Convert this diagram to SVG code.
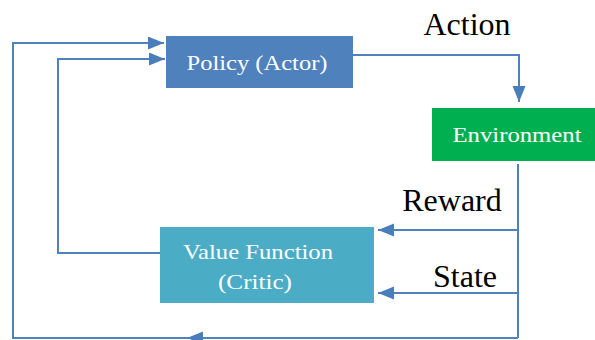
<svg xmlns="http://www.w3.org/2000/svg" width="595" height="340" viewBox="0 0 595 340">
<style>
.ln{fill:none;stroke:#4F81BD;stroke-width:2}
.box{font-family:"Liberation Serif","Times New Roman",serif;fill:#ffffff;font-size:22px}
.lbl{font-family:"Liberation Serif","Times New Roman",serif;fill:#000000;font-size:32px}
</style>
<defs>
<marker id="ah" markerUnits="userSpaceOnUse" markerWidth="17" markerHeight="14" refX="16" refY="6.5" orient="auto">
<path d="M0,0 L16,6.5 L0,13 z" fill="#4A7EBB"/>
</marker>
</defs>
<rect width="595" height="340" fill="#ffffff"/>
<g id="connectors">
<polyline class="ln" points="353,55 519,55 519,102" marker-end="url(#ah)"/>
<line class="ln" x1="518" y1="164" x2="518" y2="338"/>
<line class="ln" x1="518" y1="230" x2="378" y2="230" marker-end="url(#ah)"/>
<line class="ln" x1="518" y1="293" x2="378" y2="293" marker-end="url(#ah)"/>
<line class="ln" x1="518" y1="338" x2="187" y2="338" marker-end="url(#ah)"/>
<polyline class="ln" points="190,338 13,338 13,43 164,43" marker-end="url(#ah)"/>
<polyline class="ln" points="160,253 58,253 58,59 165,59" marker-end="url(#ah)"/>
</g>
<g id="policy">
<rect x="166" y="36" width="187" height="52" fill="#4F81BD"/>
<text class="box" x="257" y="70" text-anchor="middle" textLength="141" lengthAdjust="spacingAndGlyphs">Policy (Actor)</text>
</g>
<g id="environment">
<rect x="432" y="108" width="163" height="53" fill="#00B050"/>
<text class="box" x="517" y="142" text-anchor="middle" textLength="129" lengthAdjust="spacingAndGlyphs">Environment</text>
</g>
<g id="value">
<rect x="160" y="227" width="214" height="76" fill="#4BACC6"/>
<text class="box" x="258" y="259" text-anchor="middle" textLength="150" lengthAdjust="spacingAndGlyphs">Value Function</text>
<text class="box" x="255" y="289" text-anchor="middle" textLength="74" lengthAdjust="spacingAndGlyphs">(Critic)</text>
</g>
<g id="labels">
<text class="lbl" x="467" y="35" text-anchor="middle">Action</text>
<text class="lbl" x="452" y="211" text-anchor="middle">Reward</text>
<text class="lbl" x="465" y="287" text-anchor="middle">State</text>
</g>
</svg>
